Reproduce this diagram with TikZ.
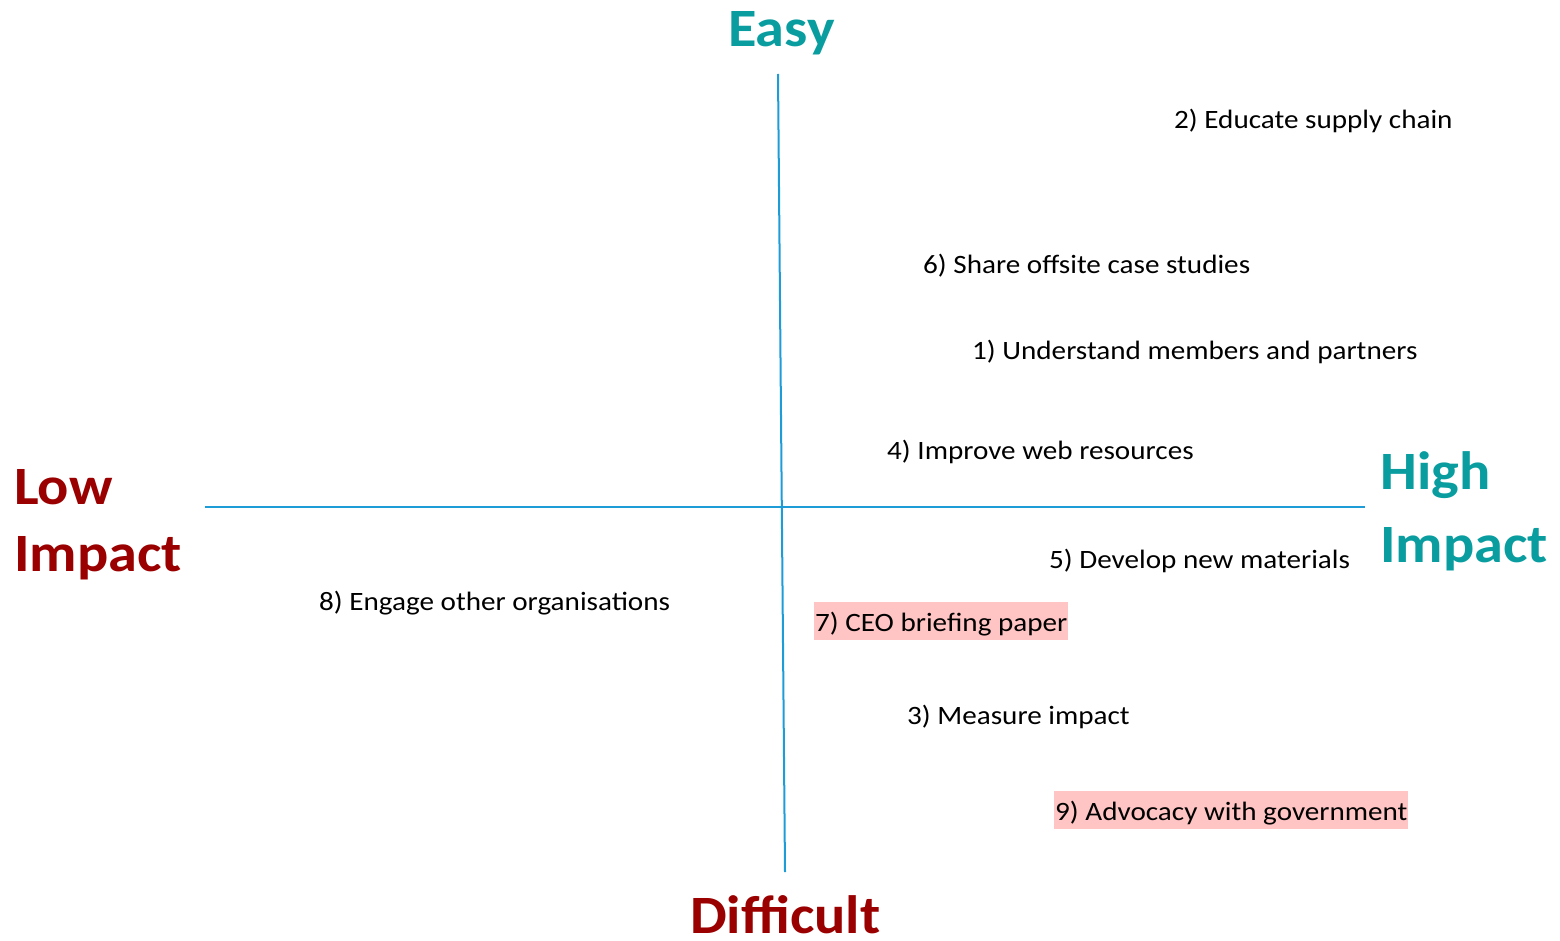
\documentclass[tikz,border=0pt]{standalone}
\usepackage{fontspec}
\setmainfont{Carlito}[FakeStretch=1.10,BoldFeatures={FakeStretch=1.08}]
\definecolor{axisblue}{RGB}{30,156,215}
\definecolor{tealc}{RGB}{10,157,160}
\definecolor{darkred}{RGB}{154,0,0}
\definecolor{pinkhl}{RGB}{255,196,196}
\begin{document}
\begin{tikzpicture}[x=1pt,y=-1pt,
  item/.style={anchor=base west,inner sep=0pt,font=\fontsize{26.5}{30}\selectfont,text=black},
  hl/.style={item,fill=pinkhl,inner xsep=1pt,text height=29pt,text depth=9pt},
  big/.style={anchor=base west,inner sep=0pt,text depth=0pt,font=\fontsize{54}{64}\selectfont\bfseries},
  axis/.style={draw=axisblue,line width=2pt}]
\useasboundingbox (0,0) rectangle (1560,941);
\coordinate (vtop) at (778,74);
\coordinate (vbot) at (785,872);
\coordinate (hl) at (205,507);
\coordinate (hr) at (1365,507);
\draw[axis] (vtop) -- (vbot);
\draw[axis] (hl) -- (hr);
\node[big,text=tealc] (easy) at (728,47) {Easy};
\node[big,text=darkred] (diff) at (690,933) {Difficult};
\node[big,text=darkred] (low1) at (14,504) {Low};
\node[big,text=darkred] (low2) at (14,571) {Impact};
\node[big,text=tealc] (high1) at (1380,489) {High};
\node[big,text=tealc] (high2) at (1380,562) {Impact};
\node[item] (i2) at (1174,129) {2) Educate supply chain};
\node[item] (i6) at (923,274) {6) Share offsite case studies};
\node[item] (i1) at (972,359) {1) Understand members and partners};
\node[item] (i4) at (887,459) {4) Improve web resources};
\node[item] (i5) at (1049,568) {5) Develop new materials};
\node[item] (i8) at (319,610) {8) Engage other organisations};
\node[hl] (i7) at (814,631) {7) CEO briefing paper};
\node[item] (i3) at (907,724) {3) Measure impact};
\node[hl] (i9) at (1054,820) {9) Advocacy with government};
\end{tikzpicture}
\end{document}
